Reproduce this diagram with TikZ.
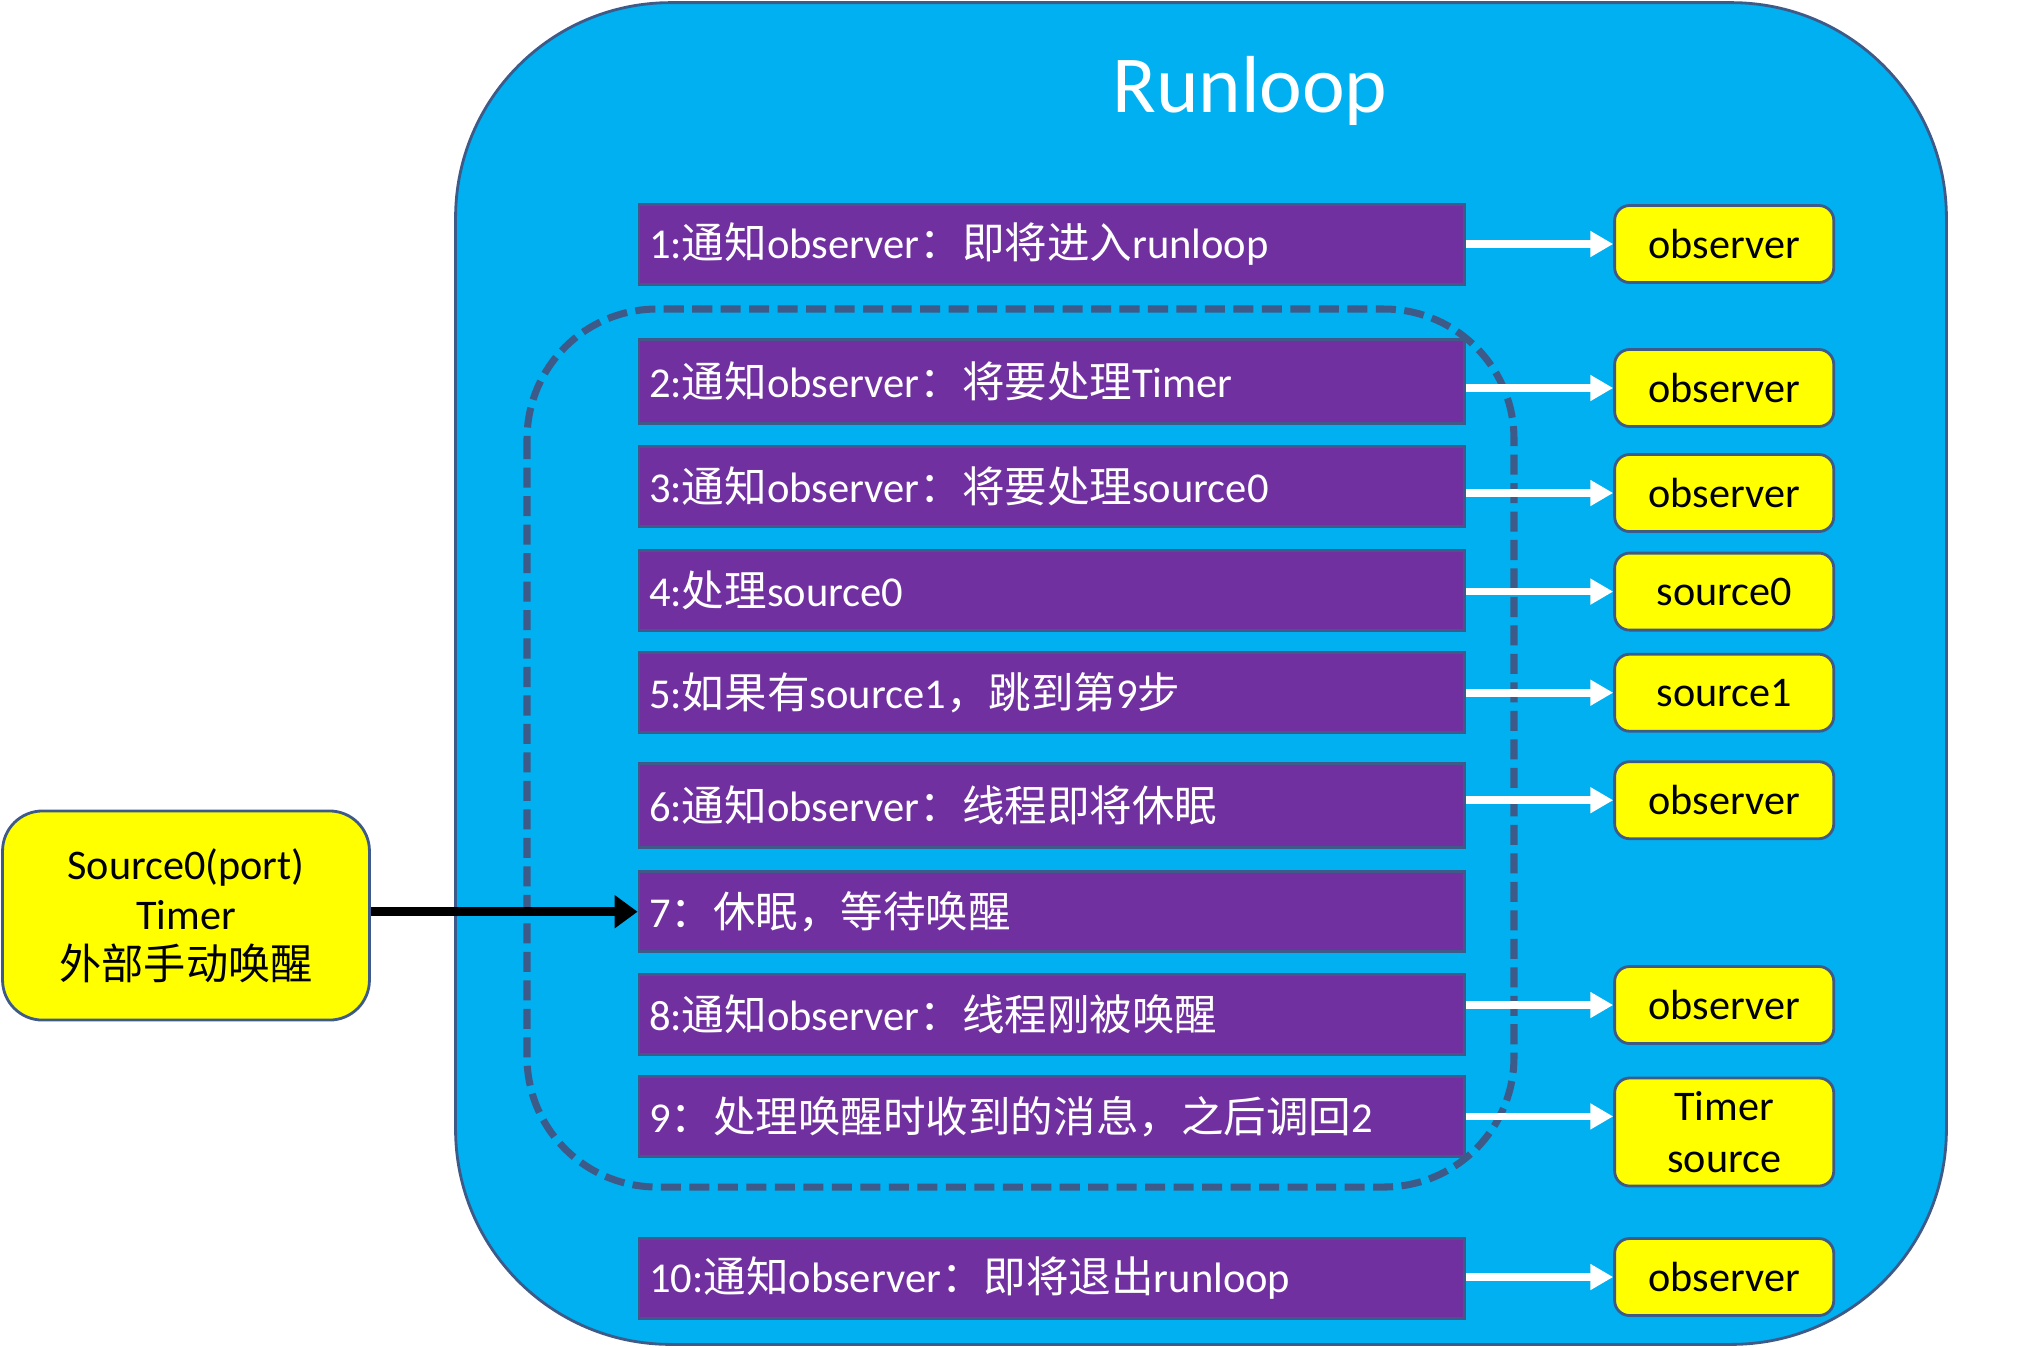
\documentclass[tikz,border=0pt]{standalone}
\usepackage{fontspec}
\setmainfont{Carlito}
\newfontfamily\cjk{Noto Sans CJK SC}
\newcommand\zh[1]{{\cjk #1}}
\usetikzlibrary{arrows.meta}
\definecolor{skyb}{RGB}{0,176,240}
\definecolor{purp}{RGB}{112,48,160}
\definecolor{bord}{RGB}{62,90,136}
\definecolor{yel}{RGB}{255,255,0}
\begin{document}
\begin{tikzpicture}[x=0.01cm,y=-0.01cm,
 pbox/.style={draw=bord, line width=0.8pt, fill=purp, text=white, anchor=west, minimum height=0.8cm, text width=8.05cm, inner xsep=0.1cm, inner ysep=0pt, align=left, font=\fontsize{12.1}{14}\selectfont},
 ybox/.style={draw=bord, line width=0.8pt, fill=yel, rounded corners=0.15cm, minimum width=2.19cm, minimum height=0.77cm, inner sep=0pt, align=center, font=\fontsize{12}{14.7}\selectfont},
 warr/.style={draw=white, line width=2.2pt, -{Triangle[length=6.5pt,width=7pt]}},
 barr/.style={draw=black, line width=2.6pt, -{Triangle[length=6.5pt,width=9pt]}},
]
\useasboundingbox (0,0) rectangle (2032,1347);
\node[draw=bord, line width=0.8pt, fill=skyb, rounded corners=2.15cm, minimum width=14.9cm, minimum height=13.41cm, inner sep=0pt] (loop) at (1201,673.5) {};
\node[text=white, font=\fontsize{23}{26}\selectfont] (title) at (1250,91) {Runloop};

\node[pbox] (p1) at (637.6,244.3) {1:\zh{通知}observer\zh{：即将进入}runloop};
\node[pbox, minimum height=0.84cm] (p2) at (637.6,381.6) {2:\zh{通知}observer\zh{：将要处理}Timer};
\node[pbox] (p3) at (637.6,486.6) {3:\zh{通知}observer\zh{：将要处理}source0};
\node[pbox] (p4) at (637.6,590.3) {4:\zh{处理}source0};
\node[pbox] (p5) at (637.6,692.7) {5:\zh{如果有}source1\zh{，跳到第}9\zh{步}};
\node[pbox, minimum height=0.84cm] (p6) at (637.6,805.4) {6:\zh{通知}observer\zh{：线程即将休眠}};
\node[pbox] (p7) at (637.6,911.7) {7\zh{：休眠，等待唤醒}};
\node[pbox] (p8) at (637.6,1014.1) {8:\zh{通知}observer\zh{：线程刚被唤醒}};
\node[pbox] (p9) at (637.6,1116.4) {9\zh{：处理唤醒时收到的消息，之后调回}2};
\node[pbox] (p10) at (637.6,1278.4) {10:\zh{通知}observer\zh{：即将退出}runloop};

\draw[bord, line width=2pt, dash pattern=on 5.7pt off 2.4pt, rounded corners=1.3cm] (527,309) rectangle (1514,1187);

\node[ybox] (y1) at (1724.2,244) {observer};
\node[ybox] (y2) at (1724.2,388) {observer};
\node[ybox] (y3) at (1724.2,493) {observer};
\node[ybox] (y4) at (1724.2,591.6) {source0};
\node[ybox] (y5) at (1724.2,692.7) {source1};
\node[ybox] (y6) at (1724.2,800.2) {observer};
\node[ybox] (y8) at (1724.2,1005) {observer};
\node[ybox, minimum height=1.08cm] (y9) at (1724.2,1132) {Timer\\source};
\node[ybox] (y10) at (1724.2,1277) {observer};

\foreach \i in {1,2,3,4,5,6,8,10}{
  \draw[warr] (y\i.west -| p\i.east) -- (y\i.west);
}
\draw[warr] (p9.east) -- (p9.east -| y9.west);

\node[draw=bord, line width=0.8pt, fill=yel, rounded corners=0.4cm, minimum width=3.667cm, minimum height=2.09cm, inner sep=0pt, align=center, font=\fontsize{12}{14.2}\selectfont] (src) at (186,915.5) {Source0(port)\\Timer\\\zh{外部手动唤醒}};
\draw[barr] (p7.west -| src.east) -- (p7.west);
\end{tikzpicture}
\end{document}
